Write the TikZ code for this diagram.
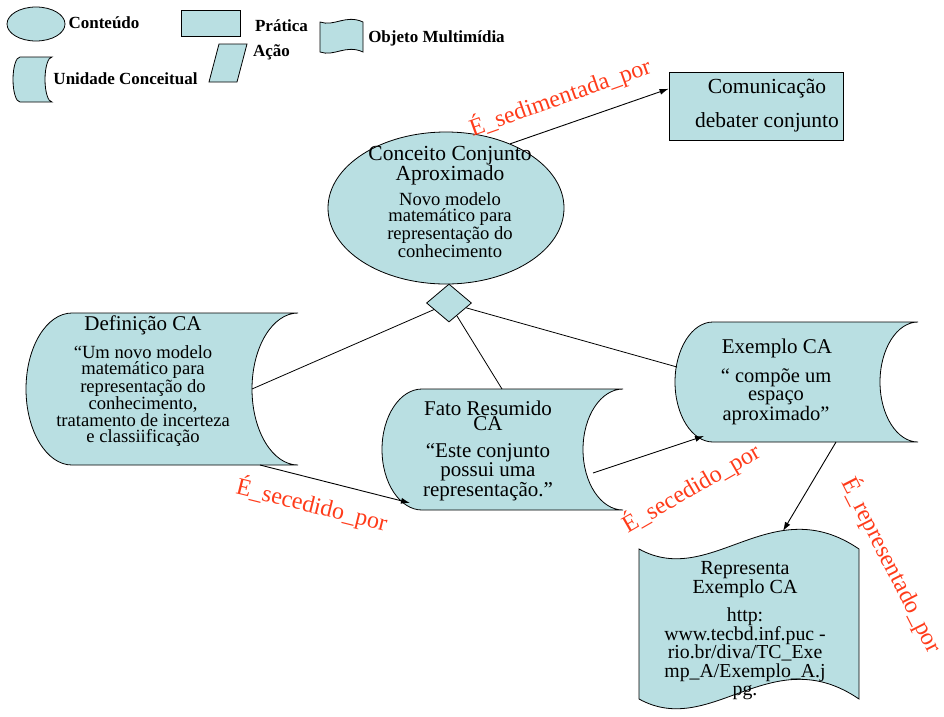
\documentclass[tikz,border=0pt]{standalone}
\usepackage{fontspec}
\setmainfont{Liberation Serif}
\usetikzlibrary{arrows.meta, calc, shapes.geometric}
\definecolor{shapebg}{HTML}{B9DFE2}
\definecolor{relred}{HTML}{FF3B1A}
\tikzset{
  shape line/.style={
    draw=black,
    line width=0.8pt,
    fill=shapebg
  },
  rel arrow/.style={
    -{Latex[length=9pt,width=6pt]},
    line width=0.9pt
  },
  rel line/.style={line width=0.8pt},
  rel label/.style={text=relred, font=\fontsize{24}{24}\selectfont, inner sep=0pt},
  legend text/.style={font=\fontsize{17}{17}\selectfont\bfseries, inner sep=0pt},
  title text/.style={font=\fontsize{21}{15}\selectfont, align=center, inner sep=0pt},
  body text/.style={font=\fontsize{18.6}{15.6}\selectfont, align=center, inner sep=0pt}
}

% Unidade Conceitual: convex on the left, hollow on the right
\newcommand{\unidade}[6]{% name, x1, y1, x2, y2, bulge
  \pgfmathsetmacro\uniYm{(#3+#5)/2}
  \pgfmathsetmacro\uniH{(#5-#3)/2*0.552}
  \pgfmathsetmacro\uniB{#6*0.552}
  \draw[shape line] (#2,#3) coordinate (#1-nw) -- (#4,#3) coordinate (#1-ne)
    .. controls (#4-\uniB,#3) and (#4-#6,\uniYm-\uniH) .. (#4-#6,\uniYm) coordinate (#1-e)
    .. controls (#4-#6,\uniYm+\uniH) and (#4-\uniB,#5) .. (#4,#5) coordinate (#1-se)
    -- (#2,#5) coordinate (#1-sw)
    .. controls (#2-\uniB,#5) and (#2-#6,\uniYm+\uniH) .. (#2-#6,\uniYm) coordinate (#1-w)
    .. controls (#2-#6,\uniYm-\uniH) and (#2-\uniB,#3) .. cycle;
}

% Objeto Multimidia: wavy top and bottom
\newcommand{\objeto}[7]{% name, x1, y1, x2, y2, dip, rise
  \pgfmathsetmacro\objW{#4-#2}
  \draw[shape line] (#2,#3) coordinate (#1-nw)
    .. controls (#2+0.33*\objW,#3+#6) and (#2+0.6*\objW,#3-#7) .. (#4,#3) coordinate (#1-ne)
    -- (#4,#5) coordinate (#1-se)
    .. controls (#2+0.6*\objW,#5-#7) and (#2+0.33*\objW,#5+#6) .. (#2,#5) coordinate (#1-sw)
    -- cycle;
}

\begin{document}
\begin{tikzpicture}[x=1pt, y=-1pt]
  \useasboundingbox (0,0) rectangle (944,716);

  % Legend
  \node[shape line, ellipse, minimum width=58pt, minimum height=34pt, inner sep=0pt] (lgconteudo) at (36,24) {};
  \node[legend text] (lgconteudo-txt) at (104,23) {Conteúdo};
  \node[shape line, minimum width=59pt, minimum height=26pt, inner sep=0pt] (lgpratica) at (210.5,23) {};
  \node[legend text] (lgpratica-txt) at (281.5,26) {Prática};
  \draw[shape line] (219,44) -- (247,44) -- (237,82) -- (209,82) -- cycle;
  \node[legend text] (lgacao-txt) at (271.5,52) {Ação};
  \objeto{lgobjeto}{320}{22}{363}{52}{5}{8}
  \node[legend text] (lgobjeto-txt) at (436.5,38) {Objeto Multimídia};
  \unidade{lgunidade}{20}{57}{52}{102}{7}
  \node[legend text] (lgunidade-txt) at (125.5,79) {Unidade Conceitual};

  % Content
  \node[shape line, ellipse, minimum width=236pt, minimum height=152pt, inner sep=0pt] (conceito) at (446,208) {};
  \node[title text, font=\fontsize{21.5}{15}\selectfont] (conceito-t) at (450,165.5) {Conceito Conjunto\\Aproximado};
  \node[body text] (conceito-b) at (450,225) {Novo modelo\\matemático para\\representação do\\conhecimento};
  \node[shape line, diamond, minimum width=45pt, minimum height=38pt, inner sep=0pt] (losango) at (449,303) {};

  % Practice
  \node[shape line, minimum width=174pt, minimum height=68pt, inner sep=0pt] (comunicacao) at (756,106) {};
  \node[title text, font=\fontsize{21.5}{15}\selectfont] (comunicacao-t) at (767,105.5) {Comunicação\\[14pt]debater conjunto};

  % Conceptual units
  \unidade{def}{72}{313}{298}{465}{46}
  \node[title text] (def-t) at (143,325) {Definição CA};
  \node[body text] (def-b) at (143,396) {“Um novo modelo\\matemático para\\representação do\\conhecimento,\\tratamento de incerteza\\e classiificação};

  \unidade{fato}{422}{389}{623}{510}{40}
  \node[title text] (fato-t) at (488,415.5) {Fato Resumido\\CA};
  \node[body text, font=\fontsize{21}{16.5}\selectfont] (fato-b) at (488,472) {“Este conjunto\\possui uma\\representação.”};

  \unidade{ex}{713}{322}{918}{442}{38}
  \node[title text] (ex-t) at (777,348) {Exemplo CA};
  \node[body text, font=\fontsize{20.5}{18}\selectfont] (ex-b) at (776,397) {“ compõe um\\espaço\\aproximado”};

  % Multimedia object
  \objeto{repr}{639}{549}{859}{699}{40}{60}
  \node[title text, font=\fontsize{20}{15}\selectfont] (repr-t) at (745,579.5) {Representa\\Exemplo CA};
  \node[body text, font=\fontsize{19.8}{18.5}\selectfont] (repr-b) at (745,654) {http:\\www.tecbd.inf.puc -\\rio.br/diva/TC\_Exe\\mp\_A/Exemplo\_A.j\\pg.};

  % connector ends on the drawn shapes
  \coordinate (comunicacao-in) at ($(comunicacao.north west)!.25!(comunicacao.south west)$);
  \coordinate (def-out) at (260,465);
  \coordinate (fato-in) at (410,503);
  \coordinate (fato-top) at (502,389);
  \coordinate (fato-out) at (593,473);
  \coordinate (ex-in) at (704,436);
  \coordinate (ex-left) at (677,367);
  \coordinate (ex-out) at (836,442);
  \coordinate (repr-in) at (783,531);

  % Composition
  \draw[rel line] (losango) -- (def-e);
  \draw[rel line] (losango) -- (fato-top);
  \draw[rel line] (losango) -- (ex-left);

  % Relations
  \draw[rel arrow] (conceito.45) -- (comunicacao-in);
  \node[rel label, rotate=19.5] (lbl-sedimentada) at (560,97) {É\_sedimentada\_por};
  \draw[rel arrow] (def-out) -- (fato-in);
  \node[rel label, rotate=-14] (lbl-secedido1) at (312,505) {É\_secedido\_por};
  \draw[rel arrow] (fato-out) -- (ex-in);
  \node[rel label, rotate=30] (lbl-secedido2) at (691,488) {É\_secedido\_por};
  \draw[rel arrow] (ex-out) -- (repr-in);
  \node[rel label, rotate=-63] (lbl-representado) at (892,565) {É\_representado\_por};
\end{tikzpicture}
\end{document}
